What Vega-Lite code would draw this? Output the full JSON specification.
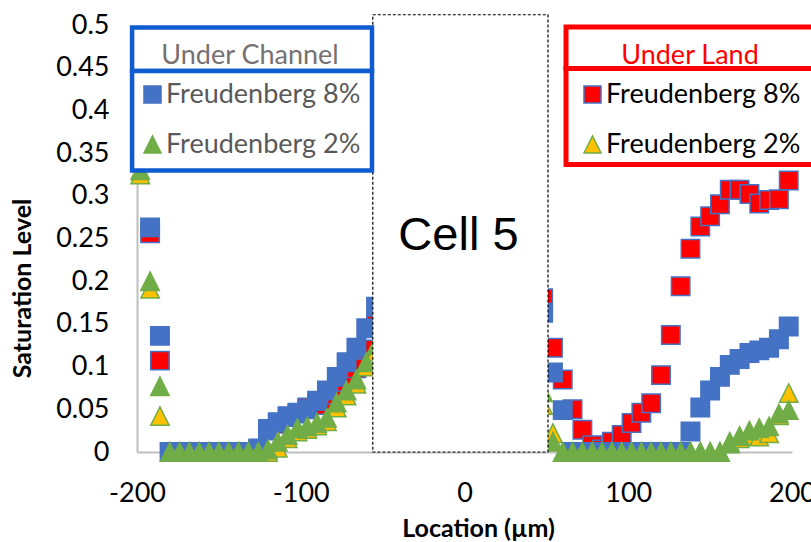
{
  "$schema": "https://vega.github.io/schema/vega-lite/v6.json",
  "width": 655,
  "height": 427,
  "autosize": {"type": "none"},
  "padding": {"left": 137, "top": 25, "right": 19, "bottom": 90},
  "background": "white",
  "config": {
    "view": {"stroke": null},
    "font": "Lato",
    "axisX": {
      "labelExpr": "toString(datum.value)", "labelFlush": false, "labelOverlap": false,
      "grid": false, "ticks": false, "tickSize": 0,
      "domainColor": "#BFBFBF", "domainWidth": 2,
      "labelFont": "Lato", "labelFontSize": 27, "labelColor": "#000000", "labelPadding": 28,
      "titleFont": "Lato", "titleFontSize": 25, "titleFontWeight": "bold", "titleColor": "#000000",
      "titleX": 341, "titleY": 76, "titleBaseline": "middle", "titleAlign": "center"
    },
    "axisY": {
      "format": ".2~f", "labelOverlap": false, "labelFlush": false,
      "grid": false, "ticks": false, "tickSize": 0,
      "domainColor": "#BFBFBF", "domainWidth": 2,
      "labelFont": "Lato", "labelFontSize": 27, "labelColor": "#000000", "labelPadding": 28,
      "titleFont": "Lato", "titleFontSize": 25, "titleFontWeight": "bold", "titleColor": "#000000",
      "titleX": -115, "titleY": 263, "titleAngle": -90, "titleBaseline": "middle", "titleAlign": "center"
    }
  },
  "datasets": {
    "points": [
      {"loc": -192, "sat": 0.256, "region": "Land", "series": "Freudenberg 8%"},
      {"loc": -186, "sat": 0.107, "region": "Land", "series": "Freudenberg 8%"},
      {"loc": -180, "sat": 0, "region": "Land", "series": "Freudenberg 8%"},
      {"loc": -174, "sat": 0, "region": "Land", "series": "Freudenberg 8%"},
      {"loc": -168, "sat": 0, "region": "Land", "series": "Freudenberg 8%"},
      {"loc": -162, "sat": 0, "region": "Land", "series": "Freudenberg 8%"},
      {"loc": -156, "sat": 0, "region": "Land", "series": "Freudenberg 8%"},
      {"loc": -150, "sat": 0, "region": "Land", "series": "Freudenberg 8%"},
      {"loc": -144, "sat": 0, "region": "Land", "series": "Freudenberg 8%"},
      {"loc": -138, "sat": 0, "region": "Land", "series": "Freudenberg 8%"},
      {"loc": -132, "sat": 0, "region": "Land", "series": "Freudenberg 8%"},
      {"loc": -126, "sat": 0.002, "region": "Land", "series": "Freudenberg 8%"},
      {"loc": -120, "sat": 0.025, "region": "Land", "series": "Freudenberg 8%"},
      {"loc": -114, "sat": 0.033, "region": "Land", "series": "Freudenberg 8%"},
      {"loc": -108, "sat": 0.041, "region": "Land", "series": "Freudenberg 8%"},
      {"loc": -102, "sat": 0.046, "region": "Land", "series": "Freudenberg 8%"},
      {"loc": -96, "sat": 0.052, "region": "Land", "series": "Freudenberg 8%"},
      {"loc": -90, "sat": 0.055, "region": "Land", "series": "Freudenberg 8%"},
      {"loc": -84, "sat": 0.06, "region": "Land", "series": "Freudenberg 8%"},
      {"loc": -78, "sat": 0.067, "region": "Land", "series": "Freudenberg 8%"},
      {"loc": -72, "sat": 0.082, "region": "Land", "series": "Freudenberg 8%"},
      {"loc": -66, "sat": 0.098, "region": "Land", "series": "Freudenberg 8%"},
      {"loc": -60, "sat": 0.12, "region": "Land", "series": "Freudenberg 8%"},
      {"loc": -54, "sat": 0.15, "region": "Land", "series": "Freudenberg 8%"},
      {"loc": 48, "sat": 0.18, "region": "Land", "series": "Freudenberg 8%"},
      {"loc": 54, "sat": 0.122, "region": "Land", "series": "Freudenberg 8%"},
      {"loc": 60, "sat": 0.085, "region": "Land", "series": "Freudenberg 8%"},
      {"loc": 66, "sat": 0.05, "region": "Land", "series": "Freudenberg 8%"},
      {"loc": 72, "sat": 0.026, "region": "Land", "series": "Freudenberg 8%"},
      {"loc": 78, "sat": 0.008, "region": "Land", "series": "Freudenberg 8%"},
      {"loc": 84, "sat": 0.003, "region": "Land", "series": "Freudenberg 8%"},
      {"loc": 90, "sat": 0.012, "region": "Land", "series": "Freudenberg 8%"},
      {"loc": 96, "sat": 0.02, "region": "Land", "series": "Freudenberg 8%"},
      {"loc": 102, "sat": 0.034, "region": "Land", "series": "Freudenberg 8%"},
      {"loc": 108, "sat": 0.046, "region": "Land", "series": "Freudenberg 8%"},
      {"loc": 114, "sat": 0.057, "region": "Land", "series": "Freudenberg 8%"},
      {"loc": 120, "sat": 0.09, "region": "Land", "series": "Freudenberg 8%"},
      {"loc": 126, "sat": 0.137, "region": "Land", "series": "Freudenberg 8%"},
      {"loc": 132, "sat": 0.194, "region": "Land", "series": "Freudenberg 8%"},
      {"loc": 138, "sat": 0.238, "region": "Land", "series": "Freudenberg 8%"},
      {"loc": 144, "sat": 0.264, "region": "Land", "series": "Freudenberg 8%"},
      {"loc": 150, "sat": 0.276, "region": "Land", "series": "Freudenberg 8%"},
      {"loc": 156, "sat": 0.29, "region": "Land", "series": "Freudenberg 8%"},
      {"loc": 162, "sat": 0.307, "region": "Land", "series": "Freudenberg 8%"},
      {"loc": 168, "sat": 0.307, "region": "Land", "series": "Freudenberg 8%"},
      {"loc": 174, "sat": 0.302, "region": "Land", "series": "Freudenberg 8%"},
      {"loc": 180, "sat": 0.291, "region": "Land", "series": "Freudenberg 8%"},
      {"loc": 186, "sat": 0.295, "region": "Land", "series": "Freudenberg 8%"},
      {"loc": 192, "sat": 0.296, "region": "Land", "series": "Freudenberg 8%"},
      {"loc": 198, "sat": 0.318, "region": "Land", "series": "Freudenberg 8%"},

      {"loc": -198, "sat": 0.325, "region": "Land", "series": "Freudenberg 2%"},
      {"loc": -192, "sat": 0.191, "region": "Land", "series": "Freudenberg 2%"},
      {"loc": -186, "sat": 0.042, "region": "Land", "series": "Freudenberg 2%"},
      {"loc": -180, "sat": 0, "region": "Land", "series": "Freudenberg 2%"},
      {"loc": -174, "sat": 0, "region": "Land", "series": "Freudenberg 2%"},
      {"loc": -168, "sat": 0, "region": "Land", "series": "Freudenberg 2%"},
      {"loc": -162, "sat": 0, "region": "Land", "series": "Freudenberg 2%"},
      {"loc": -156, "sat": 0, "region": "Land", "series": "Freudenberg 2%"},
      {"loc": -150, "sat": 0, "region": "Land", "series": "Freudenberg 2%"},
      {"loc": -144, "sat": 0, "region": "Land", "series": "Freudenberg 2%"},
      {"loc": -138, "sat": 0, "region": "Land", "series": "Freudenberg 2%"},
      {"loc": -132, "sat": 0, "region": "Land", "series": "Freudenberg 2%"},
      {"loc": -126, "sat": 0, "region": "Land", "series": "Freudenberg 2%"},
      {"loc": -120, "sat": 0, "region": "Land", "series": "Freudenberg 2%"},
      {"loc": -114, "sat": 0.005, "region": "Land", "series": "Freudenberg 2%"},
      {"loc": -108, "sat": 0.016, "region": "Land", "series": "Freudenberg 2%"},
      {"loc": -102, "sat": 0.024, "region": "Land", "series": "Freudenberg 2%"},
      {"loc": -96, "sat": 0.027, "region": "Land", "series": "Freudenberg 2%"},
      {"loc": -90, "sat": 0.031, "region": "Land", "series": "Freudenberg 2%"},
      {"loc": -84, "sat": 0.036, "region": "Land", "series": "Freudenberg 2%"},
      {"loc": -78, "sat": 0.052, "region": "Land", "series": "Freudenberg 2%"},
      {"loc": -72, "sat": 0.066, "region": "Land", "series": "Freudenberg 2%"},
      {"loc": -66, "sat": 0.08, "region": "Land", "series": "Freudenberg 2%"},
      {"loc": -60, "sat": 0.1, "region": "Land", "series": "Freudenberg 2%"},
      {"loc": -54, "sat": 0.118, "region": "Land", "series": "Freudenberg 2%"},
      {"loc": 48, "sat": 0.055, "region": "Land", "series": "Freudenberg 2%"},
      {"loc": 54, "sat": 0.022, "region": "Land", "series": "Freudenberg 2%"},
      {"loc": 60, "sat": 0, "region": "Land", "series": "Freudenberg 2%"},
      {"loc": 66, "sat": 0, "region": "Land", "series": "Freudenberg 2%"},
      {"loc": 72, "sat": 0, "region": "Land", "series": "Freudenberg 2%"},
      {"loc": 78, "sat": 0, "region": "Land", "series": "Freudenberg 2%"},
      {"loc": 84, "sat": 0, "region": "Land", "series": "Freudenberg 2%"},
      {"loc": 90, "sat": 0, "region": "Land", "series": "Freudenberg 2%"},
      {"loc": 96, "sat": 0, "region": "Land", "series": "Freudenberg 2%"},
      {"loc": 102, "sat": 0, "region": "Land", "series": "Freudenberg 2%"},
      {"loc": 108, "sat": 0, "region": "Land", "series": "Freudenberg 2%"},
      {"loc": 114, "sat": 0, "region": "Land", "series": "Freudenberg 2%"},
      {"loc": 120, "sat": 0, "region": "Land", "series": "Freudenberg 2%"},
      {"loc": 126, "sat": 0, "region": "Land", "series": "Freudenberg 2%"},
      {"loc": 132, "sat": 0, "region": "Land", "series": "Freudenberg 2%"},
      {"loc": 138, "sat": 0, "region": "Land", "series": "Freudenberg 2%"},
      {"loc": 144, "sat": 0, "region": "Land", "series": "Freudenberg 2%"},
      {"loc": 150, "sat": 0, "region": "Land", "series": "Freudenberg 2%"},
      {"loc": 156, "sat": 0, "region": "Land", "series": "Freudenberg 2%"},
      {"loc": 162, "sat": 0.012, "region": "Land", "series": "Freudenberg 2%"},
      {"loc": 168, "sat": 0.016, "region": "Land", "series": "Freudenberg 2%"},
      {"loc": 174, "sat": 0.019, "region": "Land", "series": "Freudenberg 2%"},
      {"loc": 180, "sat": 0.018, "region": "Land", "series": "Freudenberg 2%"},
      {"loc": 186, "sat": 0.022, "region": "Land", "series": "Freudenberg 2%"},
      {"loc": 192, "sat": 0.043, "region": "Land", "series": "Freudenberg 2%"},
      {"loc": 198, "sat": 0.069, "region": "Land", "series": "Freudenberg 2%"},

      {"loc": -192, "sat": 0.263, "region": "Channel", "series": "Freudenberg 8%"},
      {"loc": -186, "sat": 0.136, "region": "Channel", "series": "Freudenberg 8%"},
      {"loc": -180, "sat": 0, "region": "Channel", "series": "Freudenberg 8%"},
      {"loc": -174, "sat": 0, "region": "Channel", "series": "Freudenberg 8%"},
      {"loc": -168, "sat": 0, "region": "Channel", "series": "Freudenberg 8%"},
      {"loc": -162, "sat": 0, "region": "Channel", "series": "Freudenberg 8%"},
      {"loc": -156, "sat": 0, "region": "Channel", "series": "Freudenberg 8%"},
      {"loc": -150, "sat": 0, "region": "Channel", "series": "Freudenberg 8%"},
      {"loc": -144, "sat": 0, "region": "Channel", "series": "Freudenberg 8%"},
      {"loc": -138, "sat": 0, "region": "Channel", "series": "Freudenberg 8%"},
      {"loc": -132, "sat": 0, "region": "Channel", "series": "Freudenberg 8%"},
      {"loc": -126, "sat": 0.004, "region": "Channel", "series": "Freudenberg 8%"},
      {"loc": -120, "sat": 0.027, "region": "Channel", "series": "Freudenberg 8%"},
      {"loc": -114, "sat": 0.035, "region": "Channel", "series": "Freudenberg 8%"},
      {"loc": -108, "sat": 0.042, "region": "Channel", "series": "Freudenberg 8%"},
      {"loc": -102, "sat": 0.045, "region": "Channel", "series": "Freudenberg 8%"},
      {"loc": -96, "sat": 0.05, "region": "Channel", "series": "Freudenberg 8%"},
      {"loc": -90, "sat": 0.06, "region": "Channel", "series": "Freudenberg 8%"},
      {"loc": -84, "sat": 0.072, "region": "Channel", "series": "Freudenberg 8%"},
      {"loc": -78, "sat": 0.088, "region": "Channel", "series": "Freudenberg 8%"},
      {"loc": -72, "sat": 0.105, "region": "Channel", "series": "Freudenberg 8%"},
      {"loc": -66, "sat": 0.122, "region": "Channel", "series": "Freudenberg 8%"},
      {"loc": -60, "sat": 0.145, "region": "Channel", "series": "Freudenberg 8%"},
      {"loc": -54, "sat": 0.17, "region": "Channel", "series": "Freudenberg 8%"},
      {"loc": 48, "sat": 0.163, "region": "Channel", "series": "Freudenberg 8%"},
      {"loc": 54, "sat": 0.093, "region": "Channel", "series": "Freudenberg 8%"},
      {"loc": 60, "sat": 0.049, "region": "Channel", "series": "Freudenberg 8%"},
      {"loc": 66, "sat": 0, "region": "Channel", "series": "Freudenberg 8%"},
      {"loc": 72, "sat": 0, "region": "Channel", "series": "Freudenberg 8%"},
      {"loc": 78, "sat": 0, "region": "Channel", "series": "Freudenberg 8%"},
      {"loc": 84, "sat": 0, "region": "Channel", "series": "Freudenberg 8%"},
      {"loc": 90, "sat": 0, "region": "Channel", "series": "Freudenberg 8%"},
      {"loc": 96, "sat": 0, "region": "Channel", "series": "Freudenberg 8%"},
      {"loc": 102, "sat": 0, "region": "Channel", "series": "Freudenberg 8%"},
      {"loc": 108, "sat": 0, "region": "Channel", "series": "Freudenberg 8%"},
      {"loc": 114, "sat": 0, "region": "Channel", "series": "Freudenberg 8%"},
      {"loc": 120, "sat": 0, "region": "Channel", "series": "Freudenberg 8%"},
      {"loc": 126, "sat": 0, "region": "Channel", "series": "Freudenberg 8%"},
      {"loc": 132, "sat": 0, "region": "Channel", "series": "Freudenberg 8%"},
      {"loc": 138, "sat": 0.024, "region": "Channel", "series": "Freudenberg 8%"},
      {"loc": 144, "sat": 0.052, "region": "Channel", "series": "Freudenberg 8%"},
      {"loc": 150, "sat": 0.072, "region": "Channel", "series": "Freudenberg 8%"},
      {"loc": 156, "sat": 0.088, "region": "Channel", "series": "Freudenberg 8%"},
      {"loc": 162, "sat": 0.102, "region": "Channel", "series": "Freudenberg 8%"},
      {"loc": 168, "sat": 0.109, "region": "Channel", "series": "Freudenberg 8%"},
      {"loc": 174, "sat": 0.116, "region": "Channel", "series": "Freudenberg 8%"},
      {"loc": 180, "sat": 0.119, "region": "Channel", "series": "Freudenberg 8%"},
      {"loc": 186, "sat": 0.122, "region": "Channel", "series": "Freudenberg 8%"},
      {"loc": 192, "sat": 0.132, "region": "Channel", "series": "Freudenberg 8%"},
      {"loc": 198, "sat": 0.147, "region": "Channel", "series": "Freudenberg 8%"},

      {"loc": -198, "sat": 0.33, "region": "Channel", "series": "Freudenberg 2%"},
      {"loc": -192, "sat": 0.2, "region": "Channel", "series": "Freudenberg 2%"},
      {"loc": -186, "sat": 0.077, "region": "Channel", "series": "Freudenberg 2%"},
      {"loc": -180, "sat": 0, "region": "Channel", "series": "Freudenberg 2%"},
      {"loc": -174, "sat": 0, "region": "Channel", "series": "Freudenberg 2%"},
      {"loc": -168, "sat": 0, "region": "Channel", "series": "Freudenberg 2%"},
      {"loc": -162, "sat": 0, "region": "Channel", "series": "Freudenberg 2%"},
      {"loc": -156, "sat": 0, "region": "Channel", "series": "Freudenberg 2%"},
      {"loc": -150, "sat": 0, "region": "Channel", "series": "Freudenberg 2%"},
      {"loc": -144, "sat": 0, "region": "Channel", "series": "Freudenberg 2%"},
      {"loc": -138, "sat": 0, "region": "Channel", "series": "Freudenberg 2%"},
      {"loc": -132, "sat": 0, "region": "Channel", "series": "Freudenberg 2%"},
      {"loc": -126, "sat": 0, "region": "Channel", "series": "Freudenberg 2%"},
      {"loc": -120, "sat": 0.003, "region": "Channel", "series": "Freudenberg 2%"},
      {"loc": -114, "sat": 0.012, "region": "Channel", "series": "Freudenberg 2%"},
      {"loc": -108, "sat": 0.02, "region": "Channel", "series": "Freudenberg 2%"},
      {"loc": -102, "sat": 0.028, "region": "Channel", "series": "Freudenberg 2%"},
      {"loc": -96, "sat": 0.03, "region": "Channel", "series": "Freudenberg 2%"},
      {"loc": -90, "sat": 0.034, "region": "Channel", "series": "Freudenberg 2%"},
      {"loc": -84, "sat": 0.04, "region": "Channel", "series": "Freudenberg 2%"},
      {"loc": -78, "sat": 0.058, "region": "Channel", "series": "Freudenberg 2%"},
      {"loc": -72, "sat": 0.072, "region": "Channel", "series": "Freudenberg 2%"},
      {"loc": -66, "sat": 0.085, "region": "Channel", "series": "Freudenberg 2%"},
      {"loc": -60, "sat": 0.105, "region": "Channel", "series": "Freudenberg 2%"},
      {"loc": -54, "sat": 0.125, "region": "Channel", "series": "Freudenberg 2%"},
      {"loc": 48, "sat": 0.07, "region": "Channel", "series": "Freudenberg 2%"},
      {"loc": 54, "sat": 0.012, "region": "Channel", "series": "Freudenberg 2%"},
      {"loc": 60, "sat": 0, "region": "Channel", "series": "Freudenberg 2%"},
      {"loc": 66, "sat": 0, "region": "Channel", "series": "Freudenberg 2%"},
      {"loc": 72, "sat": 0, "region": "Channel", "series": "Freudenberg 2%"},
      {"loc": 78, "sat": 0, "region": "Channel", "series": "Freudenberg 2%"},
      {"loc": 84, "sat": 0, "region": "Channel", "series": "Freudenberg 2%"},
      {"loc": 90, "sat": 0, "region": "Channel", "series": "Freudenberg 2%"},
      {"loc": 96, "sat": 0, "region": "Channel", "series": "Freudenberg 2%"},
      {"loc": 102, "sat": 0, "region": "Channel", "series": "Freudenberg 2%"},
      {"loc": 108, "sat": 0, "region": "Channel", "series": "Freudenberg 2%"},
      {"loc": 114, "sat": 0, "region": "Channel", "series": "Freudenberg 2%"},
      {"loc": 120, "sat": 0, "region": "Channel", "series": "Freudenberg 2%"},
      {"loc": 126, "sat": 0, "region": "Channel", "series": "Freudenberg 2%"},
      {"loc": 132, "sat": 0, "region": "Channel", "series": "Freudenberg 2%"},
      {"loc": 138, "sat": 0, "region": "Channel", "series": "Freudenberg 2%"},
      {"loc": 144, "sat": 0, "region": "Channel", "series": "Freudenberg 2%"},
      {"loc": 150, "sat": 0, "region": "Channel", "series": "Freudenberg 2%"},
      {"loc": 156, "sat": 0, "region": "Channel", "series": "Freudenberg 2%"},
      {"loc": 162, "sat": 0.01, "region": "Channel", "series": "Freudenberg 2%"},
      {"loc": 168, "sat": 0.019, "region": "Channel", "series": "Freudenberg 2%"},
      {"loc": 174, "sat": 0.025, "region": "Channel", "series": "Freudenberg 2%"},
      {"loc": 180, "sat": 0.028, "region": "Channel", "series": "Freudenberg 2%"},
      {"loc": 186, "sat": 0.03, "region": "Channel", "series": "Freudenberg 2%"},
      {"loc": 192, "sat": 0.045, "region": "Channel", "series": "Freudenberg 2%"},
      {"loc": 198, "sat": 0.049, "region": "Channel", "series": "Freudenberg 2%"}
    ],
    "cell": [
      {"x1": -56, "x2": 51, "y1": 0, "y2": 0.512, "label": "Cell 5", "lx": -3.7, "ly": 0.2365}
    ],
    "boxes": [
      {"group": "Channel", "part": "header", "x1": -203, "x2": -56.5, "y1": 0.4971, "y2": 0.4461},
      {"group": "Channel", "part": "entries", "x1": -203, "x2": -56.5, "y1": 0.4461, "y2": 0.3296},
      {"group": "Land", "part": "header", "x1": 62, "x2": 220, "y1": 0.4977, "y2": 0.4491},
      {"group": "Land", "part": "entries", "x1": 62, "x2": 220, "y1": 0.4491, "y2": 0.3367}
    ]
  },
  "resolve": {"scale": {"fill": "independent", "stroke": "independent", "shape": "independent"}},
  "layer": [
    {
      "data": {"name": "points"},
      "transform": [{"filter": "datum.region == 'Land'"}],
      "mark": {"type": "point", "filled": true, "size": 340, "strokeWidth": 1.5, "opacity": 1},
      "encoding": {
        "x": {"field": "loc", "type": "quantitative", "title": "Location (µm)",
          "scale": {"domain": [-200, 200], "nice": false, "zero": false},
          "axis": {"values": [-200, -100, 0, 100, 200]}},
        "y": {"field": "sat", "type": "quantitative", "title": "Saturation Level",
          "scale": {"domain": [0, 0.5], "nice": false},
          "axis": {"values": [0, 0.05, 0.1, 0.15, 0.2, 0.25, 0.3, 0.35, 0.4, 0.45, 0.5]}},
        "fill": {
          "field": "series", "type": "nominal",
          "scale": {"domain": ["Freudenberg 8%", "Freudenberg 2%"], "range": ["#FF0000", "#FFC000"]},
          "legend": {"title": "Under Land", "orient": "none", "legendX": 442, "legendY": 18, "padding": 0,
            "titleFont": "Lato", "titleFontSize": 27, "titleFontWeight": "normal", "titleColor": "#FF0000", "titleAnchor": "middle", "titlePadding": 11, "titleLimit": 500,
            "labelFont": "Lato", "labelFontSize": 27, "labelColor": "#000000", "labelLimit": 500, "labelOffset": 0,
            "rowPadding": 22, "symbolSize": 290, "symbolStrokeWidth": 1.5}
        },
        "stroke": {
          "field": "series", "type": "nominal",
          "scale": {"domain": ["Freudenberg 8%", "Freudenberg 2%"], "range": ["#4472C4", "#70AD47"]},
          "legend": {"title": "Under Land", "orient": "none", "legendX": 442, "legendY": 18, "padding": 0,
            "titleFont": "Lato", "titleFontSize": 27, "titleFontWeight": "normal", "titleColor": "#FF0000", "titleAnchor": "middle", "titlePadding": 11, "titleLimit": 500,
            "labelFont": "Lato", "labelFontSize": 27, "labelColor": "#000000", "labelLimit": 500, "labelOffset": 0,
            "rowPadding": 22, "symbolSize": 290, "symbolStrokeWidth": 1.5}
        },
        "shape": {
          "field": "series", "type": "nominal",
          "scale": {"domain": ["Freudenberg 8%", "Freudenberg 2%"], "range": ["square", "M-1,1L0,-1L1,1Z"]},
          "legend": {"title": "Under Land", "orient": "none", "legendX": 442, "legendY": 18, "padding": 0,
            "titleFont": "Lato", "titleFontSize": 27, "titleFontWeight": "normal", "titleColor": "#FF0000", "titleAnchor": "middle", "titlePadding": 11, "titleLimit": 500,
            "labelFont": "Lato", "labelFontSize": 27, "labelColor": "#000000", "labelLimit": 500, "labelOffset": 0,
            "rowPadding": 22, "symbolSize": 290, "symbolStrokeWidth": 1.5}
        }
      }
    },
    {
      "data": {"name": "points"},
      "transform": [{"filter": "datum.region == 'Channel'"}],
      "mark": {"type": "point", "filled": true, "size": 340, "strokeWidth": 1.5, "opacity": 1},
      "encoding": {
        "x": {"field": "loc", "type": "quantitative", "title": "Location (µm)",
          "scale": {"domain": [-200, 200], "nice": false, "zero": false},
          "axis": {"values": [-200, -100, 0, 100, 200]}},
        "y": {"field": "sat", "type": "quantitative", "title": "Saturation Level",
          "scale": {"domain": [0, 0.5], "nice": false},
          "axis": {"values": [0, 0.05, 0.1, 0.15, 0.2, 0.25, 0.3, 0.35, 0.4, 0.45, 0.5]}},
        "fill": {
          "field": "series", "type": "nominal",
          "scale": {"domain": ["Freudenberg 8%", "Freudenberg 2%"], "range": ["#4472C4", "#70AD47"]},
          "legend": {"title": "Under Channel", "orient": "none", "legendX": 2, "legendY": 18, "padding": 0,
            "titleFont": "Lato", "titleFontSize": 27, "titleFontWeight": "normal", "titleColor": "#767171", "titleAnchor": "middle", "titlePadding": 11, "titleLimit": 500,
            "labelFont": "Lato", "labelFontSize": 27, "labelColor": "#595959", "labelLimit": 500, "labelOffset": 0,
            "rowPadding": 22, "symbolSize": 290, "symbolStrokeWidth": 1.5}
        },
        "stroke": {
          "field": "series", "type": "nominal",
          "scale": {"domain": ["Freudenberg 8%", "Freudenberg 2%"], "range": ["#4472C4", "#70AD47"]},
          "legend": {"title": "Under Channel", "orient": "none", "legendX": 2, "legendY": 18, "padding": 0,
            "titleFont": "Lato", "titleFontSize": 27, "titleFontWeight": "normal", "titleColor": "#767171", "titleAnchor": "middle", "titlePadding": 11, "titleLimit": 500,
            "labelFont": "Lato", "labelFontSize": 27, "labelColor": "#595959", "labelLimit": 500, "labelOffset": 0,
            "rowPadding": 22, "symbolSize": 290, "symbolStrokeWidth": 1.5}
        },
        "shape": {
          "field": "series", "type": "nominal",
          "scale": {"domain": ["Freudenberg 8%", "Freudenberg 2%"], "range": ["square", "M-1,1L0,-1L1,1Z"]},
          "legend": {"title": "Under Channel", "orient": "none", "legendX": 2, "legendY": 18, "padding": 0,
            "titleFont": "Lato", "titleFontSize": 27, "titleFontWeight": "normal", "titleColor": "#767171", "titleAnchor": "middle", "titlePadding": 11, "titleLimit": 500,
            "labelFont": "Lato", "labelFontSize": 27, "labelColor": "#595959", "labelLimit": 500, "labelOffset": 0,
            "rowPadding": 22, "symbolSize": 290, "symbolStrokeWidth": 1.5}
        }
      }
    },
    {
      "data": {"name": "cell"},
      "mark": {"type": "rect", "fill": "#FFFFFF", "stroke": "#000000", "strokeWidth": 1.2, "strokeDash": [3, 2]},
      "encoding": {
        "x": {"field": "x1", "type": "quantitative", "title": "Location (µm)",
          "scale": {"domain": [-200, 200], "nice": false, "zero": false},
          "axis": {"values": [-200, -100, 0, 100, 200]}},
        "x2": {"field": "x2"},
        "y": {"field": "y1", "type": "quantitative", "title": "Saturation Level",
          "scale": {"domain": [0, 0.5], "nice": false},
          "axis": {"values": [0, 0.05, 0.1, 0.15, 0.2, 0.25, 0.3, 0.35, 0.4, 0.45, 0.5]}},
        "y2": {"field": "y2"}
      }
    },
    {
      "data": {"name": "cell"},
      "mark": {"type": "text", "font": "Liberation Sans", "fontSize": 47, "color": "#000000", "align": "center", "baseline": "alphabetic"},
      "encoding": {
        "x": {"field": "lx", "type": "quantitative", "title": "Location (µm)",
          "scale": {"domain": [-200, 200], "nice": false, "zero": false},
          "axis": {"values": [-200, -100, 0, 100, 200]}},
        "y": {"field": "ly", "type": "quantitative", "title": "Saturation Level",
          "scale": {"domain": [0, 0.5], "nice": false},
          "axis": {"values": [0, 0.05, 0.1, 0.15, 0.2, 0.25, 0.3, 0.35, 0.4, 0.45, 0.5]}},
        "text": {"field": "label"}
      }
    },
    {
      "data": {"name": "boxes"},
      "transform": [{"filter": "datum.group == 'Channel'"}],
      "mark": {"type": "rect", "fill": "#FFFFFF", "stroke": "#0F5BD0", "strokeWidth": 4.5},
      "encoding": {
        "x": {"field": "x1", "type": "quantitative", "title": "Location (µm)",
          "scale": {"domain": [-200, 200], "nice": false, "zero": false},
          "axis": {"values": [-200, -100, 0, 100, 200]}},
        "x2": {"field": "x2"},
        "y": {"field": "y1", "type": "quantitative", "title": "Saturation Level",
          "scale": {"domain": [0, 0.5], "nice": false},
          "axis": {"values": [0, 0.05, 0.1, 0.15, 0.2, 0.25, 0.3, 0.35, 0.4, 0.45, 0.5]}},
        "y2": {"field": "y2"}
      }
    },
    {
      "data": {"name": "boxes"},
      "transform": [{"filter": "datum.group == 'Land'"}],
      "mark": {"type": "rect", "fill": "#FFFFFF", "stroke": "#FF0000", "strokeWidth": 5},
      "encoding": {
        "x": {"field": "x1", "type": "quantitative", "title": "Location (µm)",
          "scale": {"domain": [-200, 200], "nice": false, "zero": false},
          "axis": {"values": [-200, -100, 0, 100, 200]}},
        "x2": {"field": "x2"},
        "y": {"field": "y1", "type": "quantitative", "title": "Saturation Level",
          "scale": {"domain": [0, 0.5], "nice": false},
          "axis": {"values": [0, 0.05, 0.1, 0.15, 0.2, 0.25, 0.3, 0.35, 0.4, 0.45, 0.5]}},
        "y2": {"field": "y2"}
      }
    }
  ]
}
